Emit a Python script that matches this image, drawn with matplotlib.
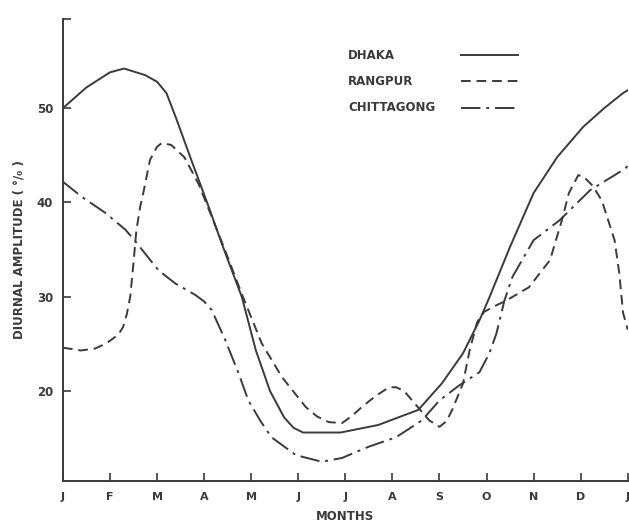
import matplotlib.pyplot as plt

months = ['J', 'F', 'M', 'A', 'M', 'J', 'J', 'A', 'S', 'O', 'N', 'D', 'J']

# month position (0 = Jan) and diurnal amplitude
dhaka_x = [0, 0.5, 1.0, 1.3, 1.75, 2.0, 2.2, 2.4, 2.75, 3.1, 3.4, 3.8, 4.1, 4.4, 4.7, 4.9, 5.1,
           5.9, 6.7, 7.55, 8.05, 8.5, 8.85, 9.05, 9.5, 10.0, 10.5, 11.05, 11.5, 11.9, 12.0]
dhaka_y = [50.0, 52.2, 53.8, 54.2, 53.5, 52.8, 51.6, 49.0, 44.2, 39.5, 35.3, 30.0, 24.3, 20.0, 17.2, 16.1, 15.6,
           15.6, 16.4, 18.0, 20.8, 24.0, 27.5, 29.8, 35.3, 41.0, 44.8, 48.0, 50.0, 51.6, 51.9]

rangpur_x = [0, 0.38, 0.68, 0.9, 1.02, 1.18, 1.28, 1.36, 1.43, 1.5, 1.56, 1.64, 1.72, 1.85, 2.0, 2.1, 2.3,
             2.58, 2.88, 3.4, 3.8, 4.22, 4.65, 5.16, 5.4, 5.65, 5.93, 6.15, 6.35, 6.65, 6.93, 7.08, 7.25,
             7.42, 7.78, 8.0, 8.15, 8.27, 8.5, 8.64, 8.8, 8.95, 9.13, 9.42, 9.9, 10.35, 10.6,
             10.75, 10.95, 11.07, 11.25, 11.45, 11.72, 11.82, 11.9, 12.0]
rangpur_y = [24.6, 24.3, 24.5, 25.0, 25.4, 26.0, 26.8, 28.2, 30.0, 33.6, 37.0, 39.5, 41.3, 44.5, 45.9, 46.3,
             46.1, 44.8, 42.0, 35.5, 30.3, 25.1, 21.5, 18.3, 17.3, 16.7, 16.6, 17.4, 18.3, 19.5, 20.4,
             20.4, 20.0, 19.0, 16.9, 16.2, 16.8, 18.0, 20.8, 24.3, 27.3, 28.4, 28.9, 29.6, 31.0, 33.9,
             38.1, 41.0, 42.9, 42.7, 41.8, 40.2, 36.0, 32.5, 28.3, 26.5]

chitta_x = [0, 0.4, 0.9, 1.33, 1.6, 2.03, 2.39, 2.81, 3.0, 3.16, 3.45, 3.73, 3.94, 4.2, 4.43, 4.95,
            5.5, 5.93, 6.5, 7.08, 7.63, 8.0, 8.42, 8.85, 9.06, 9.21, 9.38, 9.55, 10.0,
            10.55, 11.2, 11.95, 12.0]
chitta_y = [42.2, 40.6, 38.9, 37.1, 35.5, 32.8, 31.4, 30.2, 29.5, 28.6, 25.4, 21.9, 19.0, 16.8, 15.1, 13.2,
            12.5, 12.9, 14.1, 15.1, 16.9, 19.0, 20.6, 22.0, 24.0, 26.1, 29.6, 32.1, 36.0,
            38.1, 41.3, 43.6, 43.9]

ink = '#3a3a3a'
plt.rcParams['font.family'] = ['DejaVu Sans']

fig = plt.figure(figsize=(6.29, 5.26), dpi=100)
ax = fig.add_axes([0.100, 0.0856, 0.898, 0.878])

ax.plot(dhaka_x, dhaka_y, color=ink, lw=1.4, solid_joinstyle='round')
ax.plot(rangpur_x, rangpur_y, color=ink, lw=1.4, dashes=(5, 3))
ax.plot(chitta_x, chitta_y, color=ink, lw=1.4, dashes=(10, 3, 1.5, 3))

ax.set_xlim(0, 12)
ax.set_ylim(10.46, 59.44)
ax.set_xticks(range(13))
ax.set_xticklabels(months, fontsize=8, fontweight='bold', color=ink)
ax.set_yticks([20, 30, 40, 50, 59.44])
ax.set_yticklabels(['20', '30', '40', '50', ''], fontsize=8.5, fontweight='bold', color=ink)
ax.tick_params(axis='both', direction='in', length=6, width=1.2, color=ink, pad=8)
ax.tick_params(axis='y', pad=7)

for s in ['top', 'right']:
    ax.spines[s].set_visible(False)
for s in ['left', 'bottom']:
    ax.spines[s].set_color(ink)
    ax.spines[s].set_linewidth(1.4)

ax.set_xlabel('MONTHS', fontsize=8.5, fontweight='bold', color=ink, labelpad=6)
ax.set_ylabel('DIURNAL AMPLITUDE ( °/₀ )', fontsize=8.5, fontweight='bold', color=ink, labelpad=8)

# legend drawn by hand, as in the original
names = ['DHAKA', 'RANGPUR', 'CHITTAGONG']
styles = [dict(), dict(dashes=(5, 3)), dict(dashes=(10, 3, 1.5, 3))]
rows = [0.922, 0.866, 0.808]
for name, st, yy in zip(names, styles, rows):
    ax.text(0.505, yy, name, transform=ax.transAxes, fontsize=8.5, fontweight='bold',
            color=ink, va='center')
    ax.plot([0.705, 0.806], [yy, yy], transform=ax.transAxes, color=ink, lw=1.4, **st)

fig.savefig('out.png', dpi=100)
